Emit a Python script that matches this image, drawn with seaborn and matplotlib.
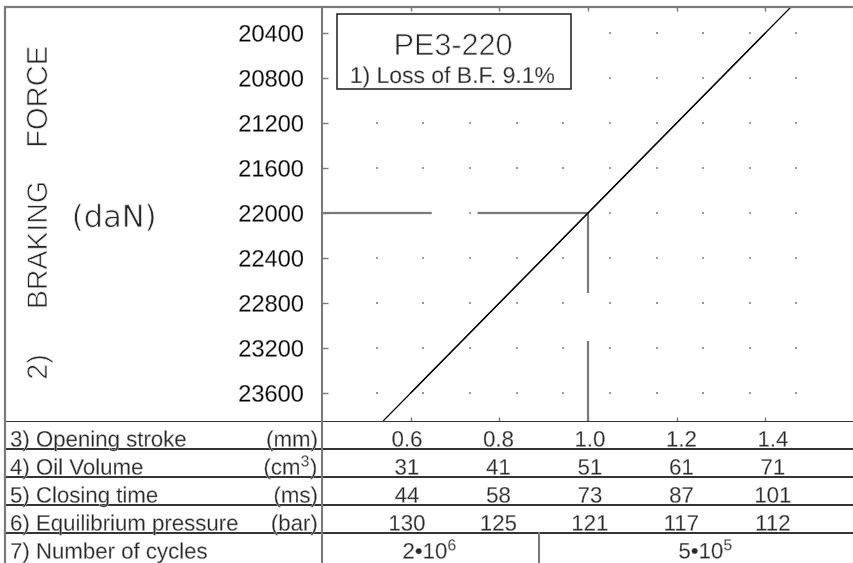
import numpy as np
import matplotlib
matplotlib.use("Agg")
import matplotlib.pyplot as plt
import matplotlib.transforms as mtransforms
import matplotlib.patheffects as pe
from matplotlib.patches import Rectangle
from matplotlib.lines import Line2D
import seaborn as sns

# ---------------- data ----------------
opening_stroke = [0.6, 0.8, 1.0, 1.2, 1.4]            # mm
braking_force = [23600, 22800, 22000, 21200, 20400]   # daN
oil_volume = [31, 41, 51, 61, 71]                     # cm3
closing_time = [44, 58, 73, 87, 101]                  # ms
equilibrium_pressure = [130, 125, 121, 117, 112]      # bar
force_ticks = [20400, 20800, 21200, 21600, 22000, 22400, 22800, 23200, 23600]
ref_stroke = 1.0
ref_force = 22000
cycles_labels = ["2•10$^{6}$", "5•10$^{5}$"]
row_labels = ["3) Opening stroke", "4) Oil Volume", "5) Closing time",
              "6) Equilibrium pressure", "7) Number of cycles"]
row_units = ["(mm)", "(cm$^{3}$)", "(ms)", "(bar)", ""]
title_text = "PE3-220"
subtitle_text = "1) Loss of B.F. 9.1%"

# ---------------- style ----------------
sns.set_theme(style="white")
plt.rcParams['font.family'] = ['Liberation Sans', 'DejaVu Sans']
plt.rcParams['mathtext.fontset'] = 'custom'
plt.rcParams['mathtext.rm'] = 'Liberation Sans'
plt.rcParams['mathtext.it'] = 'Liberation Sans:italic'
plt.rcParams['mathtext.bf'] = 'Liberation Sans:bold'
plt.rcParams['lines.scale_dashes'] = False

W, H = 854, 563
def fx(px):
    return px / W
def fy(py):
    return 1 - py / H

GREY = '#7a7a7a'
DARK = '#202020'

fig = plt.figure(figsize=(8.54, 5.63), dpi=100)
fig.patch.set_facecolor('white')

# ---------------- main plot ----------------
ax = fig.add_axes([fx(322), fy(420.5), fx(854) - fx(322), fy(7) - fy(420.5)])
ax.set_facecolor('white')
ax.set_xlim(0.4, 1.6)
ax.set_ylim(23844, 20169)

# dotted background grid
dot_x = 0.5235 + 0.1052 * np.arange(10)
gx, gy = np.meshgrid(dot_x, force_ticks)
ax.scatter(gx.ravel(), gy.ravel(), s=1.6, marker='s', color='#9a9a9a',
           linewidths=0, zorder=1)

# reference lines with breaks
ax.plot([ax.get_xlim()[0], ref_stroke], [ref_force, ref_force], color=GREY,
        lw=1.6, dashes=(79, 33), solid_capstyle='butt', zorder=2)
ax.plot([ref_stroke, ref_stroke], [ref_force, ax.get_ylim()[0]], color=GREY,
        lw=1.6, dashes=(57.6, 34.6), solid_capstyle='butt', zorder=2)

# characteristic line
sns.lineplot(x=opening_stroke, y=braking_force, ax=ax, color='black', lw=0.9,
             zorder=3)
ax.axline((opening_stroke[0], braking_force[0]),
          (opening_stroke[-1], braking_force[-1]), color='black', lw=0.9, zorder=3)
ax.set_xlim(0.4, 1.6)
ax.set_ylim(23844, 20169)
ax.set_xlabel('')
ax.set_ylabel('')

ax.set_yticks(force_ticks)
ax.set_yticklabels([str(v) for v in force_ticks])
ax.set_xticks(opening_stroke)
ax.tick_params(axis='y', left=True, direction='in', length=4, width=1,
               color=GREY, labelcolor='black', labelsize=17, pad=13)
ax.tick_params(axis='x', top=True, bottom=True, direction='in', length=3,
               width=1, color=GREY, labelbottom=False, labeltop=False)
for s in ['top', 'right', 'bottom']:
    ax.spines[s].set_visible(False)
ax.spines['left'].set_color(GREY)
ax.spines['left'].set_linewidth(1.5)

# title box
ax.add_patch(Rectangle((0.0282, 0.8017), 0.4398, 0.1814, transform=ax.transAxes,
                       facecolor='white', edgecolor=DARK, lw=1.1, zorder=4))
ax.text(0.2462, 0.8839, title_text, transform=ax.transAxes, ha='center',
        va='baseline', fontsize=22, zorder=5)
ax.text(0.2453, 0.8162, subtitle_text, transform=ax.transAxes, ha='center',
        va='baseline', fontsize=16.5, zorder=5)

# ---------------- left axis title ----------------
fig.text(fx(47), fy(97), "FORCE", rotation=90, rotation_mode='anchor',
         ha='center', va='baseline', fontsize=21)
fig.text(fx(47), fy(245), "BRAKING", rotation=90, rotation_mode='anchor',
         ha='center', va='baseline', fontsize=20.5)
fig.text(fx(47), fy(367), "2)", rotation=90, rotation_mode='anchor',
         ha='center', va='baseline', fontsize=20.5)
fig.text(fx(114), fy(227), "(daN)", ha='center', va='baseline', fontsize=22,
         family='DejaVu Sans')

# ---------------- table ----------------
tax = fig.add_axes([fx(5), 0, fx(854) - fx(5), fy(420.5)])
tax.set_facecolor('none')
row_h = 28.0
tax.set_xlim(1.0 - 585 / 457.5, 1.0 + 264 / 457.5)
tax.set_ylim(142.5 / row_h, 0)
tax.axis('off')
trans = mtransforms.blended_transform_factory(tax.transAxes, tax.transData)

for i in range(5):
    tax.axhline(i, color=DARK, lw=1.3, zorder=2)
x_div = (322 - 5) / 849
tax.add_line(Line2D([x_div, x_div], [0, 142.5 / row_h], transform=trans,
                    color=GREY, lw=1.5))
x_cyc = (539 - 5) / 849
tax.add_line(Line2D([x_cyc, x_cyc], [4, 142.5 / row_h], transform=trans,
                    color=GREY, lw=1.5))

base = 0.93
fs = 16
for i, (lab, unit) in enumerate(zip(row_labels, row_units)):
    tax.text((10 - 5) / 849, i + base, lab, transform=trans, ha='left',
             va='baseline', fontsize=fs)
    if unit:
        tax.text((318 - 5) / 849, i + base, unit, transform=trans, ha='right',
                 va='baseline', fontsize=fs)

table_rows = [["%.1f" % v for v in opening_stroke],
              [str(v) for v in oil_volume],
              [str(v) for v in closing_time],
              [str(v) for v in equilibrium_pressure]]
for i, vals in enumerate(table_rows):
    for xv, s in zip(opening_stroke, vals):
        tax.text(xv, i + base, s, ha='center', va='baseline', fontsize=fs)

tax.text((430 - 5) / 849, 4 + base, cycles_labels[0], transform=trans,
         ha='center', va='baseline', fontsize=fs)
tax.text((706 - 5) / 849, 4 + base, cycles_labels[1], transform=trans,
         ha='center', va='baseline', fontsize=fs)

# ---------------- outer frame ----------------
fig.add_artist(Line2D([fx(5), fx(5)], [fy(7), 0], color=GREY, lw=1.6))
fig.add_artist(Line2D([fx(5), 1], [fy(7), fy(7)], color=GREY, lw=1.6))

# slightly thin the glyph strokes to resemble the CAD lettering
for t in fig.findobj(matplotlib.text.Text):
    size = t.get_fontsize()
    w = 0.6 if size >= 20 else 0.28
    t.set_path_effects([pe.Normal(), pe.Stroke(linewidth=w, foreground='white')])

fig.savefig('out.png', dpi=100)
